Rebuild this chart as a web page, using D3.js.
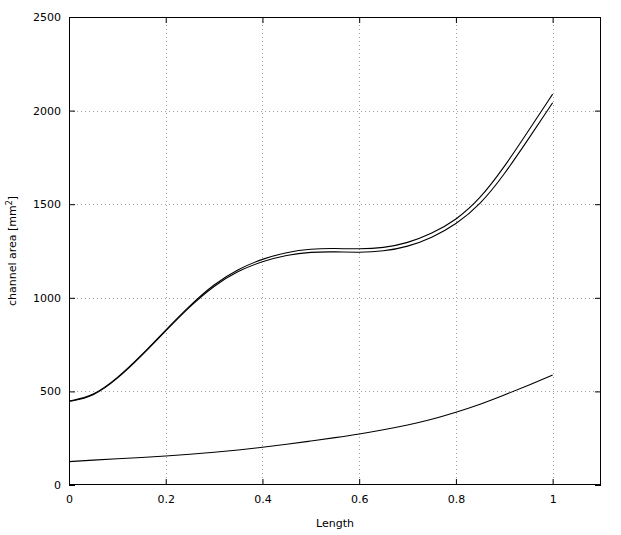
<!DOCTYPE html>
<html>
<head>
<meta charset="utf-8">
<script src="https://cdn.jsdelivr.net/npm/d3@7"></script>
<style>
  html, body { margin: 0; padding: 0; background: #fff; }
  svg { display: block; }
  text { font-family: "DejaVu Sans", Verdana, sans-serif; }
</style>
</head>
<body>
<svg id="chart" width="621" height="535"></svg>
<script>
// ---- data ----
const lengths = [0, 0.05, 0.1, 0.15, 0.2, 0.25, 0.3, 0.35, 0.4, 0.45, 0.5, 0.55, 0.6, 0.65, 0.7, 0.75, 0.8, 0.85, 0.9, 0.95, 1];
const areaOuter = [449, 474, 570, 693, 828, 960, 1074, 1155, 1208, 1244, 1262, 1264, 1260, 1266, 1292, 1342, 1414, 1528, 1698, 1892, 2088];
const areaInner = [446, 471, 566, 689, 824, 955, 1066, 1145, 1195, 1229, 1245, 1246, 1242, 1248, 1272, 1320, 1391, 1496, 1658, 1848, 2042];
const areaCore  = [125, 133, 140, 147, 155, 164, 175, 187, 201, 217, 235, 253, 272, 295, 320, 350, 388, 430, 480, 533, 587];
const xTicks = [0, 0.2, 0.4, 0.6, 0.8, 1];
const yTicks = [0, 500, 1000, 1500, 2000, 2500];
const xDomain = [0, 1.1];
const yDomain = [0, 2500];

// ---- layout ----
const svg = d3.select("#chart");
const L = 69, R = 601, T = 17, B = 485;
const x = d3.scaleLinear().domain(xDomain).range([L, R]);
const y = d3.scaleLinear().domain(yDomain).range([B, T]);
const tickLen = 6;

// grid
const grid = svg.append("g").attr("stroke", "#a0a0a0").attr("stroke-width", 1).attr("stroke-dasharray", "1,3");
xTicks.filter(v => v > 0).forEach(v => {
  grid.append("line").attr("x1", Math.round(x(v)) + 0.5).attr("x2", Math.round(x(v)) + 0.5).attr("y1", T).attr("y2", B);
});
yTicks.filter(v => v > 0 && v < 2500).forEach(v => {
  grid.append("line").attr("y1", Math.round(y(v)) + 0.5).attr("y2", Math.round(y(v)) + 0.5).attr("x1", L).attr("x2", R);
});

// axes with inward ticks on all sides
const fmtX = d => d === 0 ? "0" : (d === 1 ? "1" : d3.format(".1f")(d));
const axB = svg.append("g").attr("transform", `translate(0,${B})`)
  .call(d3.axisBottom(x).tickValues(xTicks).tickSizeInner(-tickLen).tickSizeOuter(0).tickPadding(10).tickFormat(fmtX));
const axT = svg.append("g").attr("transform", `translate(0,${T})`)
  .call(d3.axisTop(x).tickValues(xTicks).tickSizeInner(-tickLen).tickSizeOuter(0).tickFormat(""));
const axL = svg.append("g").attr("transform", `translate(${L},0)`)
  .call(d3.axisLeft(y).tickValues(yTicks).tickSizeInner(-tickLen).tickSizeOuter(0).tickPadding(8).tickFormat(d3.format("d")));
const axR = svg.append("g").attr("transform", `translate(${R},0)`)
  .call(d3.axisRight(y).tickValues(yTicks).tickSizeInner(-tickLen).tickSizeOuter(0).tickFormat(""));
[axB, axT, axL, axR].forEach(a => {
  a.select(".domain").remove();
  a.selectAll("line").attr("stroke", "#000");
  a.selectAll("text").attr("font-size", "11px").attr("fill", "#000").attr("font-family", "DejaVu Sans, Verdana, sans-serif");
});

// frame
svg.append("rect").attr("x", L + 0.5).attr("y", T + 0.5).attr("width", R - L - 1).attr("height", B - T - 1)
  .attr("fill", "none").attr("stroke", "#000").attr("stroke-width", 1);

// curves
const line = d3.line().x(d => x(d[0])).y(d => y(d[1])).curve(d3.curveBasis);
[areaOuter, areaInner, areaCore].forEach(series => {
  svg.append("path").datum(lengths.map((l, i) => [l, series[i]]))
    .attr("d", line).attr("fill", "none").attr("stroke", "#000").attr("stroke-width", 1.1);
});

// axis titles
svg.append("text").attr("x", (L + R) / 2).attr("y", 527).attr("text-anchor", "middle")
  .attr("font-size", "11px").text("Length");
const yl = svg.append("text").attr("transform", `translate(16,${(T + B) / 2}) rotate(-90)`)
  .attr("text-anchor", "middle").attr("font-size", "11px");
yl.append("tspan").text("channel area [mm");
yl.append("tspan").attr("dy", -4).attr("font-size", "8px").text("2");
yl.append("tspan").attr("dy", 4).text("]");
</script>
</body>
</html>
